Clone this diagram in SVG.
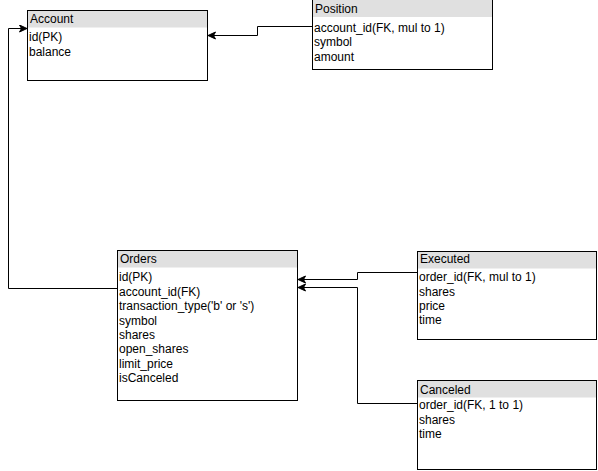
<svg xmlns="http://www.w3.org/2000/svg" width="598" height="471" viewBox="0 0 598 471">
  <defs>
    <style>
      .box { fill: #ffffff; stroke: #000000; stroke-width: 1; }
      .head { fill: #e0e0e0; stroke: none; }
      .t { font-family: "Liberation Sans", Arial, Helvetica, sans-serif; font-size: 12px; fill: #000000; }
      .edge { fill: none; stroke: #000000; stroke-width: 1; }
    </style>
    <marker id="arrow" markerUnits="userSpaceOnUse" markerWidth="10" markerHeight="10" refX="8" refY="4" orient="auto">
      <path d="M0.5,0.5 L8,4 L0.5,7.5 L2.5,4 Z" fill="#000000" stroke="#000000" stroke-width="1"/>
    </marker>
  </defs>

  <!-- connectors -->
  <g id="connectors">
    <path class="edge" d="M312 26.5 H257.5 V35.5 H208" marker-end="url(#arrow)"/>
    <path class="edge" d="M117 288.5 H8.5 V28.5 H27" marker-end="url(#arrow)"/>
    <path class="edge" d="M417 272.5 H357.5 V279.5 H298" marker-end="url(#arrow)"/>
    <path class="edge" d="M417 403.5 H357.5 V287.5 H298" marker-end="url(#arrow)"/>
  </g>

  <!-- Account table -->
  <g id="account">
    <rect class="box" x="27.5" y="10.5" width="180" height="70"/>
    <rect class="head" x="28" y="11" width="179" height="16.5"/>
    <line class="edge" x1="27.5" y1="10.5" x2="207.5" y2="10.5"/>
    <text class="t" x="30" y="22.5">Account</text>
    <text class="t" x="29" y="41">id(PK)</text>
    <text class="t" x="29" y="56">balance</text>
  </g>

  <!-- Position table -->
  <g id="position">
    <rect class="box" x="312.5" y="-0.5" width="180" height="70"/>
    <rect class="head" x="313" y="0" width="179" height="17"/>
    <text class="t" x="315" y="13">Position</text>
    <text class="t" x="314" y="31.5">account_id(FK, mul to 1)</text>
    <text class="t" x="314" y="46">symbol</text>
    <text class="t" x="314" y="60.5">amount</text>
  </g>

  <!-- Orders table -->
  <g id="orders">
    <rect class="box" x="117.5" y="250.5" width="180" height="150"/>
    <rect class="head" x="118" y="251" width="179" height="16.5"/>
    <text class="t" x="120" y="262.5">Orders</text>
    <text class="t" x="119" y="281">id(PK)</text>
    <text class="t" x="119" y="295.5">account_id(FK)</text>
    <text class="t" x="119" y="310">transaction_type('b' or 's')</text>
    <text class="t" x="119" y="324.5">symbol</text>
    <text class="t" x="119" y="339">shares</text>
    <text class="t" x="119" y="353">open_shares</text>
    <text class="t" x="119" y="367.5">limit_price</text>
    <text class="t" x="119" y="382">isCanceled</text>
  </g>

  <!-- Executed table -->
  <g id="executed">
    <rect class="box" x="417.5" y="251.5" width="179" height="88"/>
    <rect class="head" x="418" y="252" width="178" height="16.5"/>
    <text class="t" x="420" y="262.5">Executed</text>
    <text class="t" x="419" y="281">order_id(FK, mul to 1)</text>
    <text class="t" x="419" y="295.5">shares</text>
    <text class="t" x="419" y="309.5">price</text>
    <text class="t" x="419" y="324">time</text>
  </g>

  <!-- Canceled table -->
  <g id="canceled">
    <rect class="box" x="417.5" y="380.5" width="179" height="89"/>
    <rect class="head" x="418" y="381" width="178" height="16.5"/>
    <text class="t" x="420" y="393.5">Canceled</text>
    <text class="t" x="419" y="409">order_id(FK, 1 to 1)</text>
    <text class="t" x="419" y="423.5">shares</text>
    <text class="t" x="419" y="438">time</text>
  </g>
</svg>
